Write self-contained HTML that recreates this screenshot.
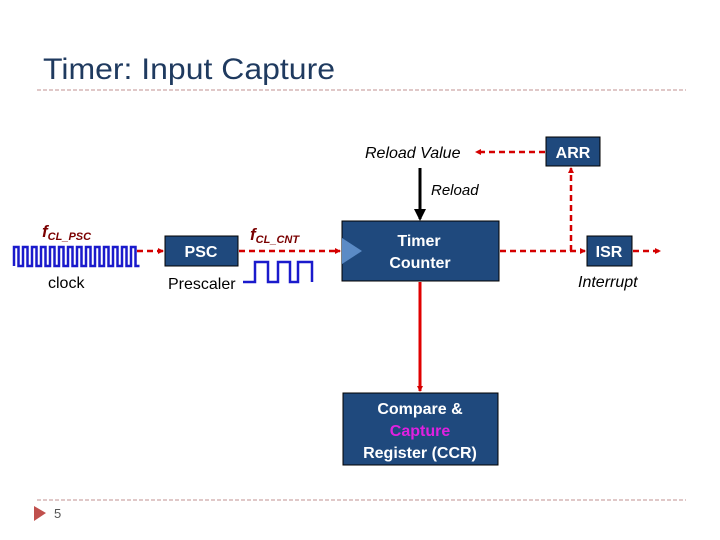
<!DOCTYPE html>
<html><head><meta charset="utf-8"><style>
html,body{margin:0;padding:0;background:#fff;}
svg{display:block;}
</style></head><body>
<svg width="720" height="540" viewBox="0 0 720 540" xmlns="http://www.w3.org/2000/svg" font-family="Liberation Sans, Arial, sans-serif">
<defs>
<marker id="ar" markerWidth="6" markerHeight="6" refX="5" refY="3" orient="auto" markerUnits="userSpaceOnUse"><path d="M0,0 L6,3 L0,6 z" fill="#d40000"/></marker>
<marker id="ab" markerWidth="12" markerHeight="12" refX="10" refY="6" orient="auto" markerUnits="userSpaceOnUse"><path d="M0,0 L12,6 L0,12 z" fill="#000"/></marker>
</defs>
<text x="43" y="79" font-size="30" fill="#1f3a5f" textLength="292" lengthAdjust="spacingAndGlyphs">Timer: Input Capture</text>
<line x1="37" y1="90" x2="686" y2="90" stroke="#c09090" stroke-width="1" stroke-dasharray="4,2"/>
<line x1="37" y1="500" x2="686" y2="500" stroke="#c09090" stroke-width="1" stroke-dasharray="4,2"/>
<path d="M34,506 L46,513 L34,521 z" fill="#c0504d"/>
<text x="54" y="518" font-size="13" fill="#555">5</text>

<!-- Boxes -->
<rect x="165" y="236" width="73" height="30" fill="#1f497d" stroke="#000"/>
<text x="201" y="257" font-size="16" font-weight="bold" fill="#fff" text-anchor="middle">PSC</text>
<rect x="342" y="221" width="157" height="60" fill="#1f497d" stroke="#000"/>
<path d="M342,238 L362,251 L342,264 z" fill="#5b8bc6"/>
<text x="419" y="246" font-size="16" font-weight="bold" fill="#fff" text-anchor="middle">Timer</text>
<text x="420" y="268" font-size="16" font-weight="bold" fill="#fff" text-anchor="middle">Counter</text>
<rect x="546" y="137" width="54" height="29" fill="#1f497d" stroke="#000"/>
<text x="573" y="158" font-size="16" font-weight="bold" fill="#fff" text-anchor="middle">ARR</text>
<rect x="587" y="236" width="45" height="30" fill="#1f497d" stroke="#000"/>
<text x="609" y="257" font-size="16" font-weight="bold" fill="#fff" text-anchor="middle">ISR</text>
<rect x="343" y="393" width="155" height="72" fill="#1f497d" stroke="#000"/>
<text x="420" y="414" font-size="16" font-weight="bold" fill="#fff" text-anchor="middle">Compare &amp;</text>
<text x="420" y="436" font-size="16" font-weight="bold" fill="#e020e0" text-anchor="middle">Capture</text>
<text x="420" y="458" font-size="16" font-weight="bold" fill="#fff" text-anchor="middle">Register (CCR)</text>

<!-- Labels -->
<text x="365" y="158" font-size="16" font-style="italic" fill="#000">Reload Value</text>
<text x="431" y="195" font-size="15" font-style="italic" fill="#000">Reload</text>
<text x="42" y="237" font-size="17" font-weight="bold" font-style="italic" fill="#7a0000">f<tspan font-size="11" dy="3">CL_PSC</tspan></text>
<text x="250" y="240" font-size="17" font-weight="bold" font-style="italic" fill="#7a0000">f<tspan font-size="11" dy="3">CL_CNT</tspan></text>
<text x="48" y="288" font-size="16" fill="#000">clock</text>
<text x="168" y="289" font-size="16" fill="#000">Prescaler</text>
<text x="578" y="287" font-size="16" font-style="italic" fill="#000">Interrupt</text>

<!-- Waveforms -->
<path d="M14,266 v-19 h4.5 v19 h4.5 v-19 h4.5 v19 h4.5 v-19 h4.5 v19 h4.5 v-19 h4.5 v19 h4.5 v-19 h4.5 v19 h4.5 v-19 h4.5 v19 h4.5 v-19 h4.5 v19 h4.5 v-19 h4.5 v19 h4.5 v-19 h4.5 v19 h4.5 v-19 h4.5 v19 h4.5 v-19 h4.5 v19 h4.5 v-19 h4.5 v19 h4.5 v-19 h4.5 v19 h4.5 v-19 h4.5 v19 h4" fill="none" stroke="#1a1acc" stroke-width="2.5"/>
<path d="M243,282 H255 V262 H268 V282 H278 V262 H290 V282 H298 V262 H312 V282" fill="none" stroke="#1a1acc" stroke-width="2.5"/>

<!-- Connectors -->
<g stroke="#d40000" stroke-width="2.5" stroke-dasharray="6,4" fill="none">
<line x1="137" y1="251" x2="163" y2="251" marker-end="url(#ar)"/>
<line x1="239" y1="251" x2="340" y2="251" marker-end="url(#ar)"/>
<line x1="500" y1="251" x2="585" y2="251" marker-end="url(#ar)"/>
<line x1="633" y1="251" x2="660" y2="251" marker-end="url(#ar)"/>
<line x1="571" y1="251" x2="571" y2="168" marker-end="url(#ar)"/>
<line x1="545" y1="152" x2="476" y2="152" marker-end="url(#ar)"/>
</g>
<line x1="420" y1="282" x2="420" y2="391" stroke="#e00000" stroke-width="3" marker-end="url(#ar)"/>
<line x1="420" y1="168" x2="420" y2="219" stroke="#000" stroke-width="3" marker-end="url(#ab)"/>
</svg>
</body></html>
